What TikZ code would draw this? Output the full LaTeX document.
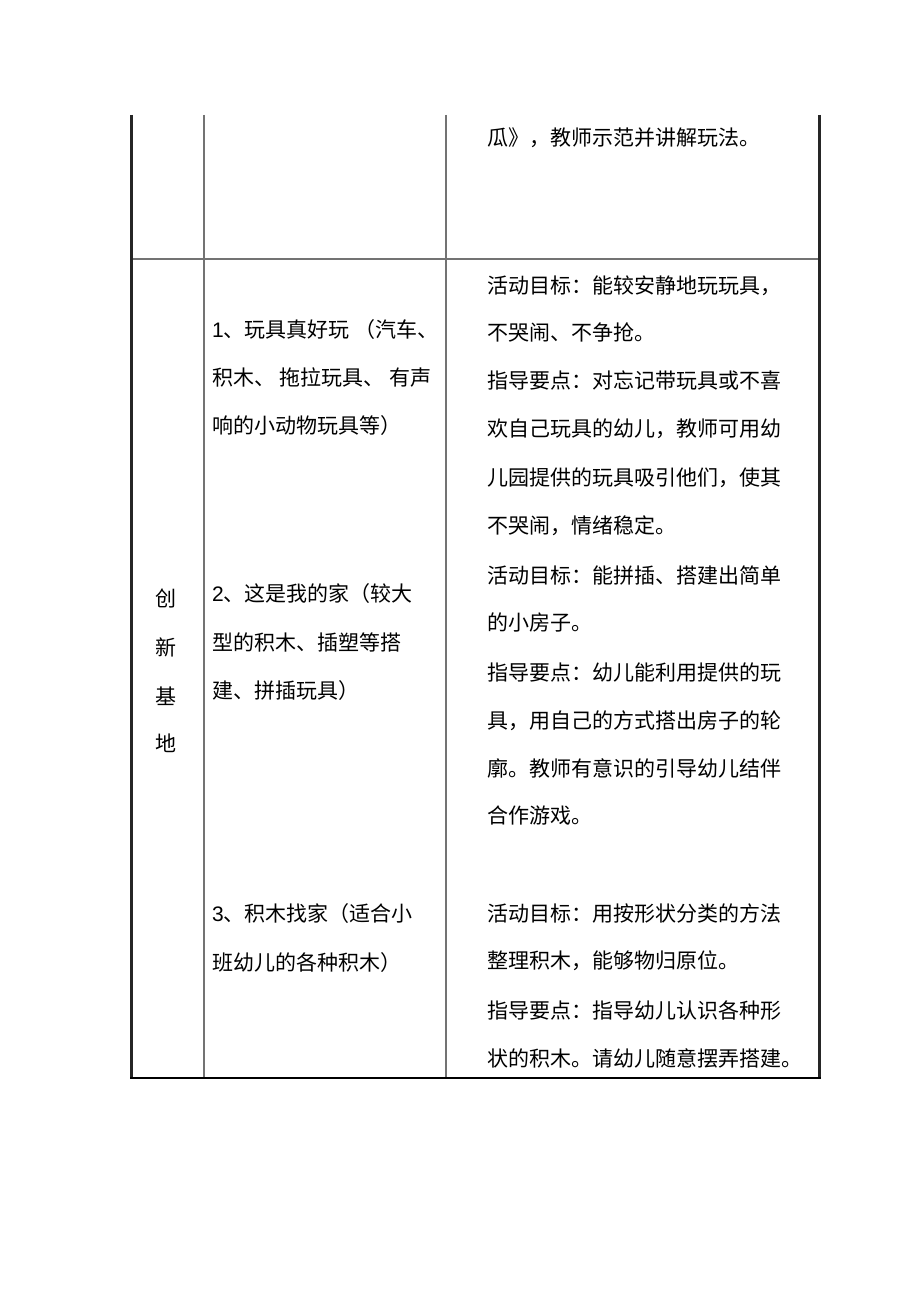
\documentclass[tikz,border=0pt]{standalone}
\usepackage{fontspec}
\setmainfont{Liberation Sans}
\newfontfamily\cjk{Noto Sans CJK SC}
\begin{document}
\begin{tikzpicture}[x=1pt,y=-1pt,
  txt/.style={anchor=base west,inner sep=0pt,font=\fontsize{21}{24}\selectfont\cjk},
  inner/.style={draw=black!55,line width=1.1pt},
  outer/.style={draw=black!85,line width=3pt}]
\useasboundingbox[fill=white] (0,0) rectangle (920,1303);
% grid coordinates
\coordinate (tl) at (131.5,115);
\coordinate (bl) at (131.5,1078);
\coordinate (tr) at (819,115);
\coordinate (br) at (819,1078);
\coordinate (c1t) at (204,115);
\coordinate (c1b) at (204,1078);
\coordinate (c2t) at (446,115);
\coordinate (c2b) at (446,1078);
\coordinate (hl) at (133,259);
\coordinate (hr) at (818,259);
\coordinate (bbl) at (130,1078);
\coordinate (bbr) at (821,1078);
\draw[inner] (c1t) -- (c1b);
\draw[inner] (c2t) -- (c2b);
\draw[inner] (hl) -- (hr);
\draw[outer] (tl) -- (bl);
\draw[outer] (tr) -- (br);
\draw[black,line width=1.6pt] (bbl) -- (bbr);
% left column
\node[txt,anchor=base] (k1) at (166,606) {创};
\node[txt,anchor=base] (k2) at (166,655) {新};
\node[txt,anchor=base] (k3) at (166,704) {基};
\node[txt,anchor=base] (k4) at (166,751) {地};
% middle column
\node[txt] (m1) at (212,337) {{\rmfamily 1}、玩具真好玩 （汽车、};
\node[txt] (m2) at (212,385) {积木、 拖拉玩具、 有声};
\node[txt] (m3) at (212,433) {响的小动物玩具等）};
\node[txt] (m4) at (212,601) {{\rmfamily 2}、这是我的家（较大};
\node[txt] (m5) at (212,650) {型的积木、插塑等搭};
\node[txt] (m6) at (212,698) {建、拼插玩具）};
\node[txt] (m7) at (212,921) {{\rmfamily 3}、积木找家（适合小};
\node[txt] (m8) at (212,970) {班幼儿的各种积木）};
% right column
\node[txt] (r0) at (487,146) {瓜》，教师示范并讲解玩法。};
\node[txt] (r1) at (487,293) {活动目标：能较安静地玩玩具，};
\node[txt] (r2) at (487,340) {不哭闹、不争抢。};
\node[txt] (r3) at (487,388) {指导要点：对忘记带玩具或不喜};
\node[txt] (r4) at (487,436) {欢自己玩具的幼儿，教师可用幼};
\node[txt] (r5) at (487,485) {儿园提供的玩具吸引他们，使其};
\node[txt] (r6) at (487,533) {不哭闹，情绪稳定。};
\node[txt] (r7) at (487,583) {活动目标：能拼插、搭建出简单};
\node[txt] (r8) at (487,630) {的小房子。};
\node[txt] (r9) at (487,680) {指导要点：幼儿能利用提供的玩};
\node[txt] (r10) at (487,728) {具，用自己的方式搭出房子的轮};
\node[txt] (r11) at (487,776) {廓。教师有意识的引导幼儿结伴};
\node[txt] (r12) at (487,823) {合作游戏。};
\node[txt] (r13) at (487,921) {活动目标：用按形状分类的方法};
\node[txt] (r14) at (487,968) {整理积木，能够物归原位。};
\node[txt] (r15) at (487,1018) {指导要点：指导幼儿认识各种形};
\node[txt] (r16) at (487,1066) {状的积木。请幼儿随意摆弄搭建。};
\end{tikzpicture}
\end{document}
